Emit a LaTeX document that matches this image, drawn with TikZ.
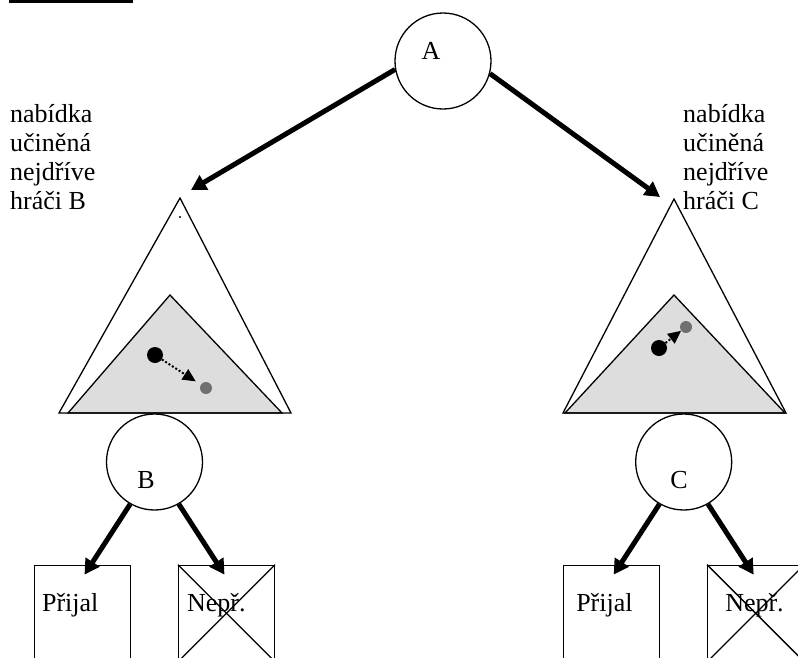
\documentclass[tikz,border=0pt]{standalone}
\usepackage{fontspec}
\setmainfont{Liberation Serif}
\usetikzlibrary{arrows.meta, positioning, calc}
\newcommand\treefont{\fontsize{26}{29}\selectfont}
\tikzset{
    player/.style={
        circle,
        draw=black,
        line width=1.3pt,
        minimum size=96pt,
        inner sep=0pt
    },
    leaf/.style={
        rectangle,
        draw=black,
        line width=1.3pt,
        minimum width=96pt,
        minimum height=96pt,
        inner sep=0pt
    },
    letter/.style={
        inner sep=0pt,
        font=\treefont
    },
    lbl/.style={
        inner sep=0pt,
        align=left,
        font=\treefont
    },
    tri/.style={
        draw=black,
        line width=1.3pt
    },
    core/.style={
        draw=black,
        fill=coregray,
        line width=1.3pt
    },
    bigdot/.style={
        circle,
        fill=black,
        inner sep=0pt,
        minimum size=16pt
    },
    smalldot/.style={
        circle,
        fill=dotgray,
        inner sep=0pt,
        minimum size=12pt
    },
    edgearrow/.style={
        draw=black,
        line width=5pt,
        -{Triangle[length=15pt,width=16pt]}
    },
    shiftarrow/.style={
        draw=black,
        line width=2pt,
        dash pattern=on 2pt off 2pt,
        -{Triangle[length=13pt,width=12pt]}
    }
}
\definecolor{coregray}{HTML}{DDDDDD}
\definecolor{dotgray}{HTML}{707070}

\begin{document}
\begin{tikzpicture}[x=1pt, y=-1pt]
\path[use as bounding box, clip] (0,0) rectangle (798,657);

% Cut-off heading rule
\fill (9,0) rectangle (133,2.7);

% Offer triangles
\filldraw[core] (170,295) -- (68,413) -- (282,413) -- cycle;
\draw[tri] (180,198) -- (59,413) -- (291,413) -- cycle;
\filldraw[core] (674,295) -- (565,413) -- (785,413) -- cycle;
\draw[tri] (674,199) -- (563,413) -- (786,413) -- cycle;
\node[circle, fill=black, inner sep=0pt, minimum size=2.4pt] (tick) at (180,217) {};

% Shifts inside the cores
\node[bigdot] (dB1) at (155,355) {};
\node[smalldot] (dB2) at (206,388) {};
\draw[shiftarrow, shorten >=6pt] (dB1) -- (dB2);
\node[bigdot] (dC1) at (659,348) {};
\node[smalldot] (dC2) at (686,327) {};
\draw[shiftarrow] (dC1) -- (dC2);

% Players
\node[player] (A) at (443,61) {};
\node[player] (B) at (154.5,462) {};
\node[player] (C) at (683.7,462) {};
\node[letter, anchor=base] (tA) at ([shift={(-12,-2)}]A.center) {A};
\node[letter, anchor=base] (tB) at ([shift={(-8.5,26)}]B.center) {B};
\node[letter, anchor=base] (tC) at ([shift={(-4.7,26)}]C.center) {C};

\coordinate (tipB) at (191,190);
\coordinate (tipC) at (660,197);
\draw[edgearrow] (A.190) -- (tipB);
\draw[edgearrow] (A.-15) -- (tipC);

% Side labels
\node[lbl, anchor=north west] (offerB) at (10,104) {nabídka\\učiněná\\nejdříve\\hráči B};
\node[lbl, anchor=north west] (offerC) at (683,104) {nabídka\\učiněná\\nejdříve\\hráči C};

% Responses
\node[leaf, below=54pt of B, xshift=-72pt] (PB) {};
\node[leaf, below=54pt of B, xshift=72pt] (NB) {};
\node[leaf, below=54pt of C, xshift=-72pt] (PC) {};
\node[leaf, below=54pt of C, xshift=72pt] (NC) {};
\draw[tri] (NB.north west) -- (NB.south east) (NB.north east) -- (NB.south west);
\draw[tri] (NC.north west) -- (NC.south east) (NC.north east) -- (NC.south west);

\node[letter, anchor=base west] (tPB) at ([shift={(8,47)}]PB.north west) {Přijal};
\node[letter, anchor=base west] (tNB) at ([shift={(9,47)}]NB.north west) {Nepř.};
\node[letter, anchor=base west] (tPC) at ([shift={(13,47)}]PC.north west) {Přijal};
\node[letter, anchor=base west] (tNC) at ([shift={(18,47)}]NC.north west) {Nepř.};

\draw[edgearrow] (B.240) -- ([shift={(2,10)}]PB.north);
\draw[edgearrow] (B.300) -- ([shift={(-2,10)}]NB.north);
\draw[edgearrow] (C.240) -- ([shift={(2,10)}]PC.north);
\draw[edgearrow] (C.300) -- ([shift={(-2,10)}]NC.north);

\end{tikzpicture}
\end{document}
